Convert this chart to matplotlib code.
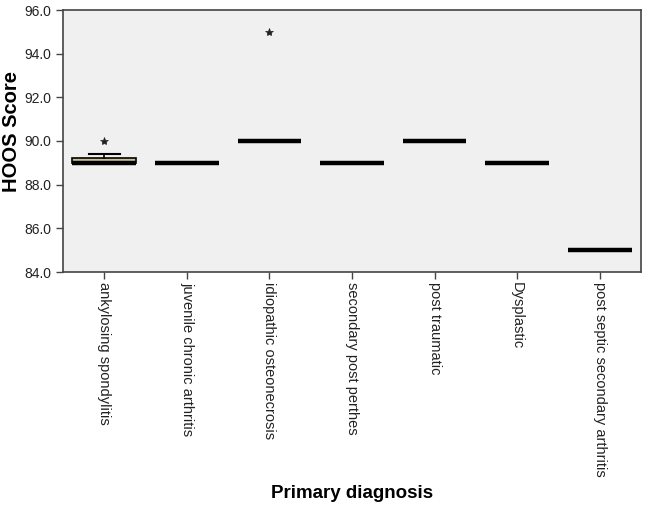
import matplotlib
matplotlib.use("Agg")
import matplotlib.pyplot as plt

categories = ["ankylosing spondylitis", "juvenile chronic arthritis", "idiopathic osteonecrosis",
              "secondary post perthes", "post traumatic", "Dysplastic", "post septic secondary arthritis"]
medians = [89.0, 89.0, 90.0, 89.0, 90.0, 89.0, 85.0]
q1 = [89.0, 89.0, 90.0, 89.0, 90.0, 89.0, 85.0]
q3 = [89.2, 89.0, 90.0, 89.0, 90.0, 89.0, 85.0]
whislo = [89.0, 89.0, 90.0, 89.0, 90.0, 89.0, 85.0]
whishi = [89.4, 89.0, 90.0, 89.0, 90.0, 89.0, 85.0]
fliers = [[90.0], [], [95.0], [], [], [], []]
yticks = [84.0, 86.0, 88.0, 90.0, 92.0, 94.0, 96.0]

plt.rcParams['font.family'] = ['Liberation Sans', 'DejaVu Sans']

fig = plt.figure(figsize=(6.45, 5.07), dpi=100)
ax = fig.add_axes([63/645, 1-272/507, (641-63)/645, (272-10)/507])
ax.set_facecolor('#F0F0F0')

stats = []
for i, c in enumerate(categories):
    stats.append(dict(label=c, med=medians[i], q1=q1[i], q3=q3[i],
                      whislo=whislo[i], whishi=whishi[i], fliers=fliers[i]))

ax.bxp(stats, positions=range(len(categories)), widths=0.77, patch_artist=True,
       showfliers=True, shownotches=False,
       boxprops=dict(facecolor='#CFC196', edgecolor='black', linewidth=1.2),
       medianprops=dict(color='black', linewidth=3.2),
       whiskerprops=dict(color='black', linewidth=1.2),
       capprops=dict(color='black', linewidth=1.5),
       capwidths=0.38,
       flierprops=dict(marker='*', markerfacecolor='#222222', markeredgecolor='#222222',
                       markersize=6, markeredgewidth=0.5, linestyle='none'))

ax.set_xlim(-0.5, len(categories) - 0.5)
ax.set_ylim(84, 96)
ax.set_yticks(yticks)
ax.set_yticklabels([f"{v:.1f}" for v in yticks])
ax.set_xticks(range(len(categories)))
ax.set_xticklabels(categories, rotation=270, va='top', ha='center')
ax.tick_params(axis='both', labelsize=10, length=5, width=1, color='#444444', labelcolor='#222222')
ax.tick_params(axis='x', pad=2, labelsize=10.5)
for s in ax.spines.values():
    s.set_color('#444444')
    s.set_linewidth(1.2)

fig.text(12/645, 1-132/507, "HOOS Score", fontsize=14.5, fontweight='bold',
         rotation=90, ha='center', va='center')
fig.text(352/645, 1-493/507, "Primary diagnosis", fontsize=13.5, fontweight='bold',
         ha='center', va='center')

fig.savefig("out.png", dpi=100, facecolor='white')
